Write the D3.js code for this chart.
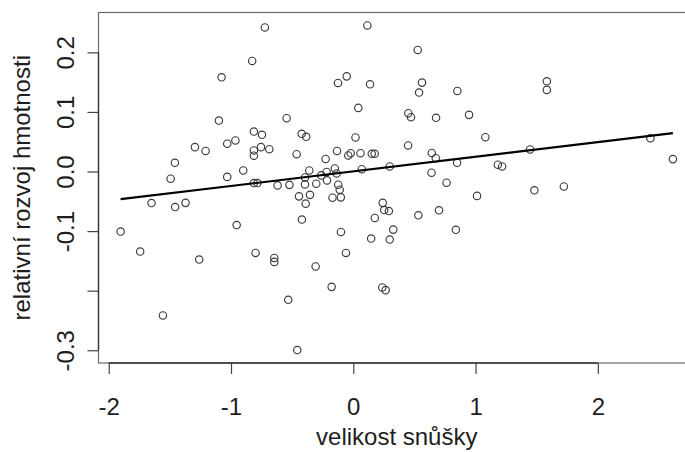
<!DOCTYPE html>
<html>
<head>
<meta charset="utf-8">
<script src="https://cdn.jsdelivr.net/npm/d3@7"></script>
<style>
  html, body { margin: 0; padding: 0; background: #fff; }
  svg { display: block; font-family: "Liberation Sans", Arial, Helvetica, sans-serif; }
</style>
</head>
<body>
<svg id="chart" width="685" height="452"></svg>
<script>
// Clutch size (standardised) for each brood
const clutchSize = [
  -1.903, -1.743, -1.650, -1.557, -1.494, -1.459, -1.457, -1.372, -1.295, -1.260,
  -1.208, -1.099, -1.077, -1.031, -1.031, -0.964, -0.954, -0.900, -0.827, -0.813,
  -0.747, -0.813, -0.813, -0.755, -0.687, -0.813, -0.784, -0.723, -0.619, -0.545,
  -0.522, -0.463, -0.422, -0.385, -0.360, -0.395, -0.395, -0.444, -0.354, -0.389,
  -0.420, -0.458, -0.532, -0.799, -0.646, -0.646, -0.308, -0.177, -0.303, -0.262,
  -0.226, -0.218, -0.215, -0.151, -0.136, -0.133, -0.123, -0.111, -0.170, -0.102,
  -0.101, -0.060, -0.041, -0.021, -0.125, -0.054, 0.041, 0.018, 0.059, 0.115,
  0.137, 0.151, 0.175, 0.070, 0.298, 0.241, 0.253, 0.291, 0.176, 0.327,
  0.146, 0.298, 0.237, 0.265, 0.448, 0.450, 0.472, 0.527, 0.562, 0.538,
  0.532, 0.642, 0.675, 0.640, 0.677, 0.701, 0.763, 0.839, 0.849, 0.851,
  0.947, 1.012, 1.080, 1.182, 1.217, 1.446, 1.481, 1.583, 1.583, 1.722,
  2.430, 2.614
];

// Relative growth of body mass for the same broods
const massGrowth = [
  -0.1008, -0.1343, -0.0529, -0.2415, -0.0121, 0.0147, -0.0596, -0.0526, 0.0409, -0.1477,
  0.0345, 0.0856, 0.1581, 0.0466, -0.0090, 0.0521, -0.0898, 0.0018, 0.1855, 0.0671,
  0.0616, 0.0353, 0.0265, 0.0409, 0.0375, -0.0194, -0.0194, 0.2418, -0.0233, 0.0894,
  -0.0224, 0.0291, 0.0633, 0.0583, 0.0018, -0.0099, -0.0216, -0.0417, -0.0392, -0.0539,
  -0.0807, -0.2996, -0.2153, -0.1366, -0.1450, -0.1517, -0.1594, -0.1936, -0.0204, -0.0065,
  0.0211, -0.0007, -0.0149, 0.0052, -0.0032, 0.0345, -0.0221, -0.0305, -0.0439, -0.0434,
  -0.1015, -0.1366, 0.0270, 0.0308, 0.1487, 0.1597, 0.1068, 0.0571, 0.0308, 0.2451,
  0.1463, 0.0298, 0.0298, 0.0039, 0.0085, -0.0526, -0.0646, -0.0663, -0.0780, -0.0975,
  -0.1125, -0.1142, -0.1946, -0.1991, 0.0437, 0.0978, 0.0911, 0.2040, 0.1492, 0.1325,
  -0.0735, 0.0311, 0.0223, -0.0020, 0.0901, -0.0651, -0.0188, -0.0978, 0.0147, 0.1353,
  0.0951, -0.0409, 0.0576, 0.0114, 0.0085, 0.0370, -0.0316, 0.1514, 0.1370, -0.0250,
  0.0559, 0.0208
];

const xTicks = [-2, -1, 0, 1, 2];
const xTickLabels = ["-2", "-1", "0", "1", "2"];
const yTicks = [-0.3, -0.2, -0.1, 0.0, 0.1, 0.2];
const yTickLabels = ["-0.3", "", "-0.1", "0.0", "0.1", "0.2"];

const xTitle = "velikost snůšky";
const yTitle = "relativní rozvoj hmotnosti";

const points = clutchSize.map((c, i) => ({ x: c, y: massGrowth[i] }));

// Plot region
const plot = { left: 98.5, top: 12.5, right: 695, bottom: 363 };

// Axis ranges padded by 4% on each side
function padded(vals) {
  const [lo, hi] = d3.extent(vals);
  const pad = (hi - lo) * 0.04;
  return [lo - pad, hi + pad];
}

const x = d3.scaleLinear().domain(padded(clutchSize)).range([plot.left, plot.right]);
const y = d3.scaleLinear().domain(padded(massGrowth)).range([plot.bottom, plot.top]);

// Least-squares fit of growth on clutch size
const mx = d3.mean(clutchSize), my = d3.mean(massGrowth);
let sxy = 0, sxx = 0;
points.forEach(p => { sxy += (p.x - mx) * (p.y - my); sxx += (p.x - mx) ** 2; });
const slope = sxy / sxx;
const intercept = my - slope * mx;

const svg = d3.select("#chart");

// Frame around the plot region
svg.append("rect")
  .attr("x", plot.left).attr("y", plot.top)
  .attr("width", plot.right - plot.left).attr("height", plot.bottom - plot.top)
  .attr("fill", "none").attr("stroke", "#6a6a6a").attr("stroke-width", 1.2);

// Points
svg.append("g")
  .selectAll("circle")
  .data(points)
  .join("circle")
  .attr("cx", d => x(d.x))
  .attr("cy", d => y(d.y))
  .attr("r", 3.7)
  .attr("fill", "none")
  .attr("stroke", "#3c3c3c")
  .attr("stroke-width", 1.15);

// Fitted line over the observed range of clutch size
const [xmin, xmax] = d3.extent(clutchSize);
svg.append("line")
  .attr("x1", x(xmin)).attr("y1", y(intercept + slope * xmin))
  .attr("x2", x(xmax)).attr("y2", y(intercept + slope * xmax))
  .attr("stroke", "#000").attr("stroke-width", 2.1);

const textColor = "#1e1e1e";
const fontSize = 24;

// x axis
const gx = svg.append("g")
  .attr("transform", `translate(0,${plot.bottom})`)
  .call(d3.axisBottom(x).tickValues(xTicks).tickSize(11)
    .tickFormat((d, i) => xTickLabels[i]));
gx.select(".domain").remove();
gx.append("line")
  .attr("x1", x(xTicks[0])).attr("x2", x(xTicks[xTicks.length - 1]))
  .attr("stroke", "#333").attr("stroke-width", 1.3);
gx.selectAll(".tick line").attr("stroke", "#444").attr("stroke-width", 1.2);
gx.selectAll(".tick text")
  .attr("y", 52).attr("dy", null)
  .attr("fill", textColor)
  .style("font-size", fontSize + "px")
  .style("font-family", "'Liberation Sans', Arial, Helvetica, sans-serif");

// y axis
const gy = svg.append("g")
  .attr("transform", `translate(${plot.left},0)`)
  .call(d3.axisLeft(y).tickValues(yTicks).tickSize(11)
    .tickFormat((d, i) => yTickLabels[i]));
gy.select(".domain").remove();
gy.append("line")
  .attr("y1", y(yTicks[0])).attr("y2", y(yTicks[yTicks.length - 1]))
  .attr("stroke", "#333").attr("stroke-width", 1.3);
gy.selectAll(".tick line").attr("stroke", "#444").attr("stroke-width", 1.2);
gy.selectAll(".tick text")
  .attr("x", 0).attr("y", 0).attr("dy", null)
  .attr("transform", "translate(-25,0) rotate(-90)")
  .attr("text-anchor", "middle")
  .attr("fill", textColor)
  .style("font-size", fontSize + "px")
  .style("font-family", "'Liberation Sans', Arial, Helvetica, sans-serif");

// Axis titles
svg.append("text")
  .attr("x", (plot.left + plot.right) / 2).attr("y", 445)
  .attr("text-anchor", "middle")
  .attr("fill", textColor)
  .style("font-size", fontSize + "px")
  .text(xTitle);

svg.append("text")
  .attr("transform", `translate(30,${(plot.top + plot.bottom) / 2}) rotate(-90)`)
  .attr("text-anchor", "middle")
  .attr("fill", textColor)
  .style("font-size", fontSize + "px")
  .text(yTitle);
</script>
</body>
</html>
